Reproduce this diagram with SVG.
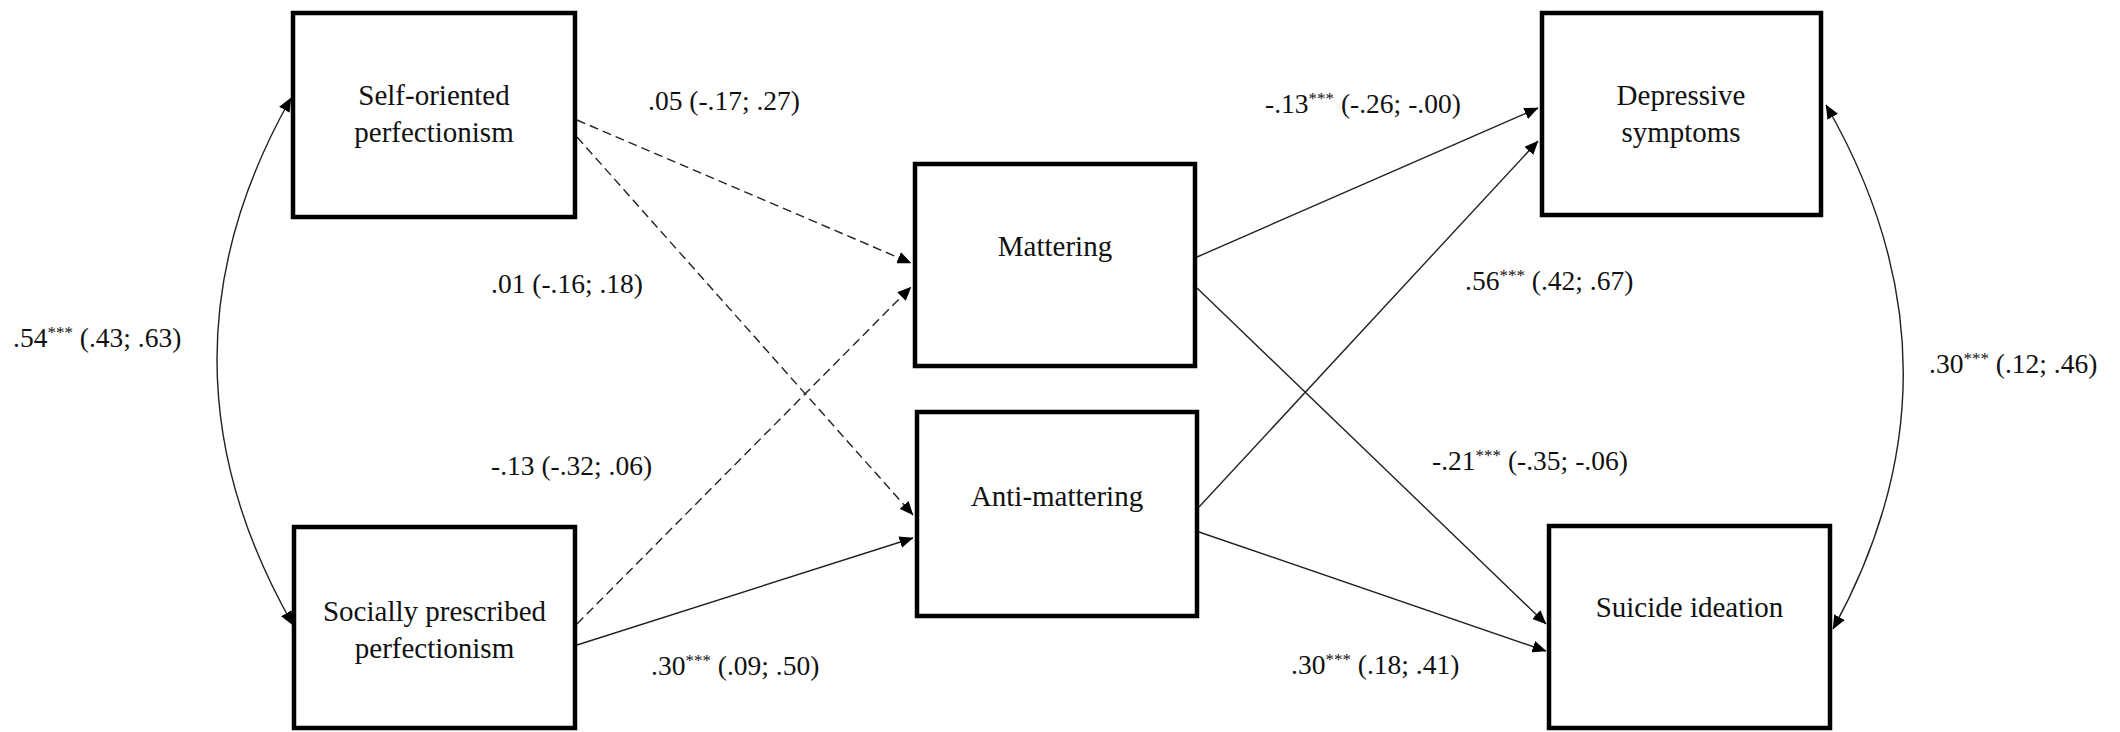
<svg xmlns="http://www.w3.org/2000/svg" width="2120" height="732" viewBox="0 0 2120 732">
  <style>
    .box { fill: #fff; stroke: #000; stroke-width: 4.5; }
    .name { font-family: "Liberation Serif", "Times New Roman", serif; font-size: 29px; fill: #111; text-anchor: middle; }
    .coef { font-family: "Liberation Serif", "Times New Roman", serif; font-size: 27.5px; fill: #111; }
    .sup { font-size: 17px; }
    .path { fill: none; stroke: #222; stroke-width: 1.4; }
    .dash { stroke-dasharray: 9 5; }
  </style>
  <defs>
    <marker id="arrow" markerUnits="userSpaceOnUse" markerWidth="14" markerHeight="12" viewBox="0 0 14 12" refX="13.5" refY="6" orient="auto-start-reverse">
      <path d="M0,0 L14,6 L0,12 Z" fill="#000"/>
    </marker>
  </defs>

  <rect width="2120" height="732" fill="#fff"/>

  <!-- paths between the variables -->
  <g id="connectors">
    <line class="path dash" x1="577" y1="120" x2="911" y2="263" marker-end="url(#arrow)"/>
    <line class="path dash" x1="577" y1="137" x2="913" y2="515" marker-end="url(#arrow)"/>
    <line class="path dash" x1="577" y1="624" x2="911" y2="287" marker-end="url(#arrow)"/>
    <line class="path" x1="577" y1="645" x2="913" y2="538" marker-end="url(#arrow)"/>
    <line class="path" x1="1197" y1="257" x2="1538" y2="108" marker-end="url(#arrow)"/>
    <line class="path" x1="1197" y1="288" x2="1546" y2="624" marker-end="url(#arrow)"/>
    <line class="path" x1="1199" y1="507" x2="1538" y2="141" marker-end="url(#arrow)"/>
    <line class="path" x1="1199" y1="532" x2="1546" y2="651" marker-end="url(#arrow)"/>
    <!-- covariances -->
    <path class="path" d="M291,98 Q142,361 293,625" marker-start="url(#arrow)" marker-end="url(#arrow)"/>
    <path class="path" d="M1826,105 Q1977,367 1833,629" marker-start="url(#arrow)" marker-end="url(#arrow)"/>
  </g>

  <g id="self-oriented">
    <rect class="box" x="293" y="13" width="282" height="204"/>
    <text class="name" x="434" y="105">Self-oriented</text>
    <text class="name" x="434" y="142">perfectionism</text>
  </g>
  <g id="socially-prescribed">
    <rect class="box" x="294" y="527" width="281" height="201"/>
    <text class="name" x="434.5" y="621">Socially prescribed</text>
    <text class="name" x="434.5" y="658">perfectionism</text>
  </g>
  <g id="mattering">
    <rect class="box" x="915" y="164" width="280" height="202"/>
    <text class="name" x="1055" y="256">Mattering</text>
  </g>
  <g id="anti-mattering">
    <rect class="box" x="917" y="412" width="280" height="204"/>
    <text class="name" x="1057" y="506">Anti-mattering</text>
  </g>
  <g id="depressive">
    <rect class="box" x="1542" y="13" width="279" height="202"/>
    <text class="name" x="1681" y="105">Depressive</text>
    <text class="name" x="1681" y="142">symptoms</text>
  </g>
  <g id="suicide">
    <rect class="box" x="1549" y="526" width="281" height="202"/>
    <text class="name" x="1689.5" y="617">Suicide ideation</text>
  </g>

  <!-- path coefficients with confidence intervals -->
  <g id="coefficients">
    <text class="coef" x="648" y="110">.05 (-.17; .27)</text>
    <text class="coef" x="491" y="293">.01 (-.16; .18)</text>
    <text class="coef" x="13" y="347">.54<tspan class="sup" dy="-9">***</tspan><tspan dy="9"> (.43; .63)</tspan></text>
    <text class="coef" x="491" y="475">-.13 (-.32; .06)</text>
    <text class="coef" x="651" y="675">.30<tspan class="sup" dy="-9">***</tspan><tspan dy="9"> (.09; .50)</tspan></text>
    <text class="coef" x="1265" y="113">-.13<tspan class="sup" dy="-9">***</tspan><tspan dy="9"> (-.26; -.00)</tspan></text>
    <text class="coef" x="1465" y="290">.56<tspan class="sup" dy="-9">***</tspan><tspan dy="9"> (.42; .67)</tspan></text>
    <text class="coef" x="1929" y="373">.30<tspan class="sup" dy="-9">***</tspan><tspan dy="9"> (.12; .46)</tspan></text>
    <text class="coef" x="1432" y="470">-.21<tspan class="sup" dy="-9">***</tspan><tspan dy="9"> (-.35; -.06)</tspan></text>
    <text class="coef" x="1291" y="674">.30<tspan class="sup" dy="-9">***</tspan><tspan dy="9"> (.18; .41)</tspan></text>
  </g>
</svg>
